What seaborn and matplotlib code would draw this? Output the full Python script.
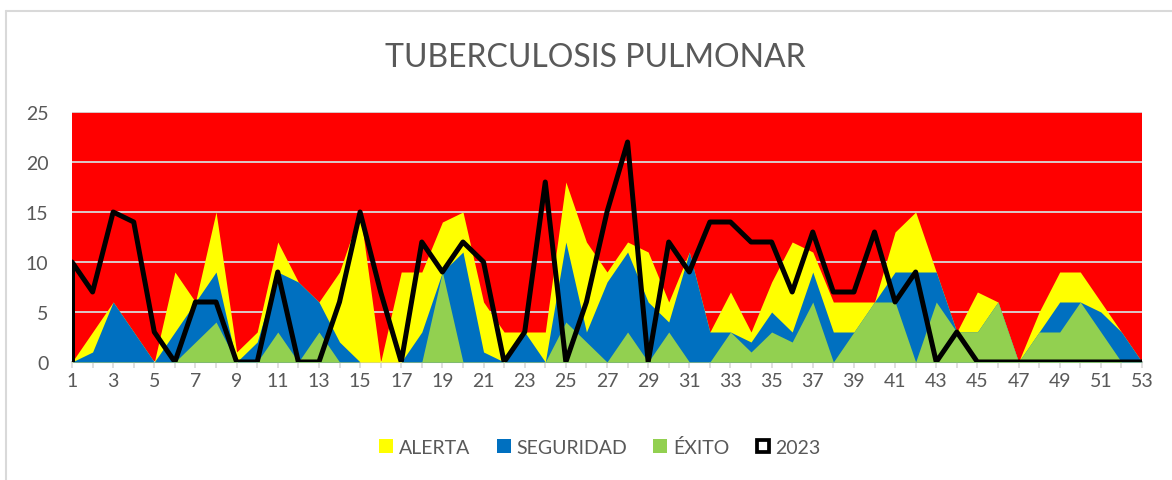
import matplotlib
matplotlib.use("Agg")
import matplotlib.pyplot as plt
import seaborn as sns
import pandas as pd
from matplotlib.patches import Patch
from matplotlib.lines import Line2D

# ---------------- data ----------------
semanas = list(range(1, 54))
epidemia = [25] * 53
alerta = [0, 3, 6, 3, 0, 9, 6, 15, 1, 3, 12, 8, 6, 9, 15, 0, 9, 9, 14, 15,
          6, 3, 3, 3, 18, 12, 9, 12, 11, 6, 11, 3, 7, 3, 8, 12, 11, 6, 6, 6,
          13, 15, 9, 3, 7, 6, 0, 5, 9, 9, 6, 3, 0]
seguridad = [0, 1, 6, 3, 0, 3, 6, 9, 0, 2, 9, 8, 6, 2, 0, 0, 0, 3, 9, 11,
             1, 0, 3, 0, 12, 3, 8, 11, 6, 4, 11, 3, 3, 2, 5, 3, 9, 3, 3, 6,
             9, 9, 9, 3, 3, 6, 0, 3, 6, 6, 5, 3, 0]
exito = [0, 0, 0, 0, 0, 0, 2, 4, 0, 0, 3, 0, 3, 0, 0, 0, 0, 0, 9, 0,
         0, 0, 0, 0, 4, 2, 0, 3, 0, 3, 0, 0, 3, 1, 3, 2, 6, 0, 3, 6,
         6, 0, 6, 3, 3, 6, 0, 3, 3, 6, 3, 0, 0]
casos_2023 = [10, 7, 15, 14, 3, 0, 6, 6, 0, 0, 9, 0, 0, 6, 15, 7, 0, 12, 9, 12,
              10, 0, 3, 18, 0, 6, 15, 22, 0, 12, 9, 14, 14, 12, 12, 7, 13, 7, 7, 13,
              6, 9, 0, 3, 0, 0, 0, 0, 0, 0, 0, 0, 0]
etiquetas_x = [str(s) if s % 2 == 1 else "" for s in semanas]
ticks_y = [0, 5, 10, 15, 20, 25]
titulo = "TUBERCULOSIS PULMONAR"
leyenda = ["ALERTA", "SEGURIDAD", "ÉXITO", "2023"]

C_RED, C_YEL, C_BLU, C_GRN = "#FF0000", "#FFFF00", "#0070C0", "#92D050"
GRAY_TXT = "#595959"

sns.set_theme(style="white")
plt.rcParams['font.family'] = ['Lato', 'DejaVu Sans']

W, H = 1172, 481
fig = plt.figure(figsize=(W / 100, H / 100), dpi=100)
ax = fig.add_axes([72 / W, 1 - 363 / H, (1142 - 72) / W, 250 / H])

ax.fill_between(semanas, 0, epidemia, color=C_RED, lw=0, zorder=1)
ax.fill_between(semanas, 0, alerta, color=C_YEL, lw=0, zorder=2)
ax.fill_between(semanas, 0, seguridad, color=C_BLU, lw=0, zorder=3)
ax.fill_between(semanas, 0, exito, color=C_GRN, lw=0, zorder=4)

df = pd.DataFrame({"semana": semanas, "casos": casos_2023})
sns.lineplot(data=df, x="semana", y="casos", color="black", lw=3.6,
             ax=ax, zorder=5, legend=False)
ax.vlines(semanas[0], 0, casos_2023[0], color="black", lw=3.6, zorder=5)

ax.set_xlim(semanas[0], semanas[-1])
ax.set_ylim(0, 25)
ax.set_xlabel("")
ax.set_ylabel("")
ax.set_axisbelow('line')
ax.yaxis.grid(True, color="#D9D9D9", lw=1.3)
ax.xaxis.grid(False)

ax.set_xticks(semanas)
ax.set_xticklabels(etiquetas_x)
ax.set_yticks(ticks_y)
ax.tick_params(axis="x", length=4.5, width=1.2, color="#D9D9D9", pad=3,
               labelsize=14, labelcolor=GRAY_TXT, bottom=True)
ax.tick_params(axis="y", length=0, pad=17, labelsize=14, labelcolor=GRAY_TXT)
for s in ["left", "right", "top"]:
    ax.spines[s].set_visible(False)
ax.spines["bottom"].set_color("#BFBFBF")
ax.spines["bottom"].set_linewidth(1.5)
ax.spines["bottom"].set_zorder(0.5)

fig.text(595 / W, 1 - 58 / H, titulo, ha="center", va="center",
         fontsize=23, color=GRAY_TXT)

handles = [Patch(facecolor=C_YEL, edgecolor="none"),
           Patch(facecolor=C_BLU, edgecolor="none"),
           Patch(facecolor=C_GRN, edgecolor="none"),
           Line2D([], [], marker="s", markersize=8.5, markerfacecolor="white",
                  markeredgecolor="black", markeredgewidth=2.7, linestyle="none")]
leg = fig.legend(handles, leyenda, loc="center", bbox_to_anchor=(600 / W, 1 - 448 / H),
                 ncol=4, frameon=False, fontsize=14, handlelength=0.72,
                 handleheight=0.72, handletextpad=0.3, columnspacing=1.35)
for t in leg.get_texts():
    t.set_color(GRAY_TXT)

fig.add_artist(Line2D([6 / W, 6 / W], [0, 1 - 12 / H], transform=fig.transFigure,
                      color="#D9D9D9", lw=1.5))
fig.add_artist(Line2D([6 / W, 1], [1 - 12 / H, 1 - 12 / H], transform=fig.transFigure,
                      color="#D9D9D9", lw=1.5))

fig.savefig("out.png", dpi=100)
